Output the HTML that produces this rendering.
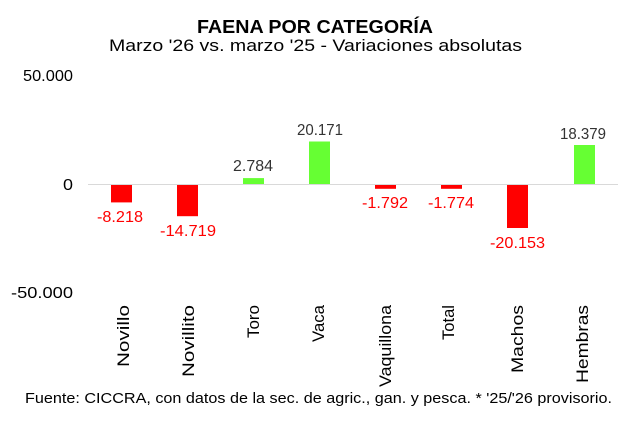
<!DOCTYPE html>
<html><head><meta charset="utf-8"><style>
html,body{margin:0;padding:0;background:#fff;}
svg{display:block;font-family:"Liberation Sans",Arial,sans-serif;}
</style></head><body>
<svg width="640" height="421" viewBox="0 0 640 421" xmlns="http://www.w3.org/2000/svg">
<text x="197" y="33" font-size="18" font-weight="bold" fill="#000" textLength="236" lengthAdjust="spacingAndGlyphs">FAENA POR CATEGORÍA</text>
<text x="109" y="51" font-size="17" fill="#000" textLength="413" lengthAdjust="spacingAndGlyphs">Marzo '26 vs. marzo '25 - Variaciones absolutas</text>
<g font-size="16" fill="#000">
<text x="23" y="81" textLength="50" lengthAdjust="spacingAndGlyphs">50.000</text>
<text x="63" y="190" textLength="10" lengthAdjust="spacingAndGlyphs">0</text>
<text x="11" y="298" textLength="62" lengthAdjust="spacingAndGlyphs">-50.000</text>
</g>
<line x1="88" y1="184.5" x2="618" y2="184.5" stroke="#d9d9d9" stroke-width="1"/>
<g>
<rect x="111" y="185" width="21" height="17.4" fill="#ff0000"/>
<rect x="177" y="185" width="21" height="31.2" fill="#ff0000"/>
<rect x="243" y="178.1" width="21" height="5.9" fill="#66ff33"/>
<rect x="309" y="141.5" width="21" height="42.5" fill="#66ff33"/>
<rect x="375" y="185" width="21" height="3.8" fill="#ff0000"/>
<rect x="441" y="185" width="21" height="3.8" fill="#ff0000"/>
<rect x="507" y="185" width="21" height="43" fill="#ff0000"/>
<rect x="574" y="145" width="21" height="39" fill="#66ff33"/>
</g>
<g font-size="16">
<text x="97" y="222" fill="#ff0000" textLength="46" lengthAdjust="spacingAndGlyphs">-8.218</text>
<text x="160" y="236" fill="#ff0000" textLength="56" lengthAdjust="spacingAndGlyphs">-14.719</text>
<text x="233" y="171" fill="#333" textLength="40" lengthAdjust="spacingAndGlyphs">2.784</text>
<text x="297" y="135" fill="#333" textLength="46" lengthAdjust="spacingAndGlyphs">20.171</text>
<text x="362" y="208" fill="#ff0000" textLength="46" lengthAdjust="spacingAndGlyphs">-1.792</text>
<text x="428" y="208" fill="#ff0000" textLength="46" lengthAdjust="spacingAndGlyphs">-1.774</text>
<text x="490" y="248" fill="#ff0000" textLength="55" lengthAdjust="spacingAndGlyphs">-20.153</text>
<text x="560" y="139" fill="#333" textLength="46" lengthAdjust="spacingAndGlyphs">18.379</text>
</g>
<g font-size="17" fill="#000" text-anchor="end">
<text transform="translate(129,305) rotate(-90)" textLength="62" lengthAdjust="spacingAndGlyphs">Novillo</text>
<text transform="translate(194,305) rotate(-90)" textLength="72" lengthAdjust="spacingAndGlyphs">Novillito</text>
<text transform="translate(259,305) rotate(-90)" textLength="33" lengthAdjust="spacingAndGlyphs">Toro</text>
<text transform="translate(324,305) rotate(-90)" textLength="37" lengthAdjust="spacingAndGlyphs">Vaca</text>
<text transform="translate(391,305) rotate(-90)" textLength="82" lengthAdjust="spacingAndGlyphs">Vaquillona</text>
<text transform="translate(454,305) rotate(-90)" textLength="35" lengthAdjust="spacingAndGlyphs">Total</text>
<text transform="translate(523,305) rotate(-90)" textLength="68" lengthAdjust="spacingAndGlyphs">Machos</text>
<text transform="translate(588,305) rotate(-90)" textLength="78" lengthAdjust="spacingAndGlyphs">Hembras</text>
</g>
<text x="25" y="403" font-size="15" fill="#000" textLength="587" lengthAdjust="spacingAndGlyphs">Fuente: CICCRA, con datos de la sec. de agric., gan. y pesca. * '25/'26 provisorio.</text>
</svg>
</body></html>
